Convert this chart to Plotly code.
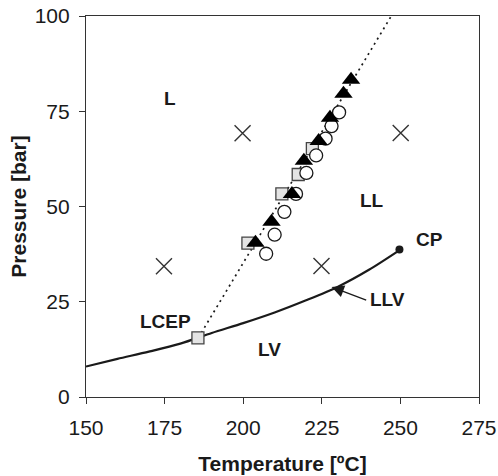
import plotly.graph_objects as go

# LLV three-phase curve
llv_T = [150, 160, 170, 180, 190, 200, 210, 220, 230, 240, 250]
llv_P = [8.0, 10.0, 11.9, 14.0, 16.8, 19.4, 22.2, 25.4, 28.9, 33.4, 38.7]

# critical point
cp_T = [249.7]
cp_P = [38.7]

# dotted critical (L=L) line from the LCEP
crit_T = [185.7, 247.1]
crit_P = [15.5, 100.0]

# experimental series
tri_T = [234.3, 231.9, 227.6, 224.0, 219.3, 215.5, 209.0, 203.9]
tri_P = [83.3, 79.6, 73.3, 67.2, 62.0, 53.3, 46.0, 40.5]

sq_T = [222.0, 217.5, 212.3, 201.5, 185.6]
sq_P = [65.2, 58.4, 53.3, 40.4, 15.5]

circ_T = [230.5, 228.1, 226.2, 223.2, 220.1, 216.8, 213.1, 210.0, 207.3]
circ_P = [74.7, 71.1, 67.8, 63.4, 58.8, 53.3, 48.6, 42.6, 37.6]

x_T = [174.8, 199.8, 224.9, 250.1]
x_P = [34.3, 69.2, 34.4, 69.3]

xticks = [150, 175, 200, 225, 250, 275]
yticks = [0, 25, 50, 75, 100]

FONT = "Liberation Sans, Arial, sans-serif"
INK = "#1a1a1a"

fig = go.Figure()

fig.add_trace(go.Scatter(x=crit_T, y=crit_P, mode="lines",
                         line=dict(color=INK, width=1.7, dash="2px,4px"),
                         hoverinfo="skip", showlegend=False))
fig.add_trace(go.Scatter(x=llv_T, y=llv_P, mode="lines",
                         line=dict(color=INK, width=2.2, shape="spline", smoothing=0.8),
                         showlegend=False))
fig.add_trace(go.Scatter(x=cp_T, y=cp_P, mode="markers",
                         marker=dict(symbol="circle", size=8, color=INK),
                         showlegend=False))
fig.add_trace(go.Scatter(x=x_T, y=x_P, mode="markers",
                         marker=dict(symbol="x-thin", size=16,
                                     line=dict(color="#333333", width=1.4)),
                         showlegend=False))
fig.add_trace(go.Scatter(x=sq_T, y=sq_P, mode="markers",
                         marker=dict(symbol="square", size=12, color="#e4e4e4",
                                     line=dict(color="#444444", width=1.3)),
                         showlegend=False))
fig.add_trace(go.Scatter(x=circ_T, y=circ_P, mode="markers",
                         marker=dict(symbol="circle", size=13, color="white",
                                     line=dict(color=INK, width=1.3)),
                         showlegend=False))
fig.add_trace(go.Scatter(x=tri_T, y=tri_P, mode="markers",
                         marker=dict(symbol="triangle-up", size=16, color="#000000",
                                     line=dict(color="#000000", width=0)),
                         showlegend=False))

labels = [
    ("L", 176.7, 78.3),
    ("LL", 241.1, 51.6),
    ("CP", 259.1, 41.3),
    ("LLV", 245.8, 25.6),
    ("LCEP", 175.4, 19.7),
    ("LV", 208.3, 12.4),
]
for txt, lx, ly in labels:
    fig.add_annotation(x=lx, y=ly, text="<b>%s</b>" % txt, showarrow=False,
                       font=dict(family=FONT, size=19, color=INK))

fig.add_annotation(x=228.1, y=28.9, ax=239.6, ay=25.3, axref="x", ayref="y",
                   text="", showarrow=True, arrowhead=2, arrowsize=1.9,
                   arrowwidth=1.3, arrowcolor=INK)

axis_common = dict(showline=True, linecolor="#333333", linewidth=1.2, mirror=True,
                   ticks="outside", ticklen=6, tickcolor="#333333", tickwidth=1.2,
                   showgrid=False, zeroline=False, automargin=False,
                   ticklabeloverflow="allow",
                   tickfont=dict(family=FONT, size=21, color=INK))

fig.update_xaxes(range=[150, 275], tickvals=xticks, ticklabelstandoff=6,
                 title=dict(text="<b>Temperature [ºC]</b>", standoff=18,
                            font=dict(family=FONT, size=21, color=INK)),
                 **axis_common)
fig.update_yaxes(range=[0, 100], tickvals=yticks, ticklabelstandoff=5,
                 title=dict(text="<b>Pressure [bar]</b>", standoff=2,
                            font=dict(family=FONT, size=21, color=INK)),
                 **axis_common)

fig.update_layout(width=498, height=476,
                  margin=dict(l=86, r=19, t=16, b=79),
                  plot_bgcolor="white", paper_bgcolor="white",
                  showlegend=False)

# remove the default page margin so the figure fills the window exactly
fig.write_html("out.html", config={"displayModeBar": False},
               post_script="document.body.style.margin='0';")
